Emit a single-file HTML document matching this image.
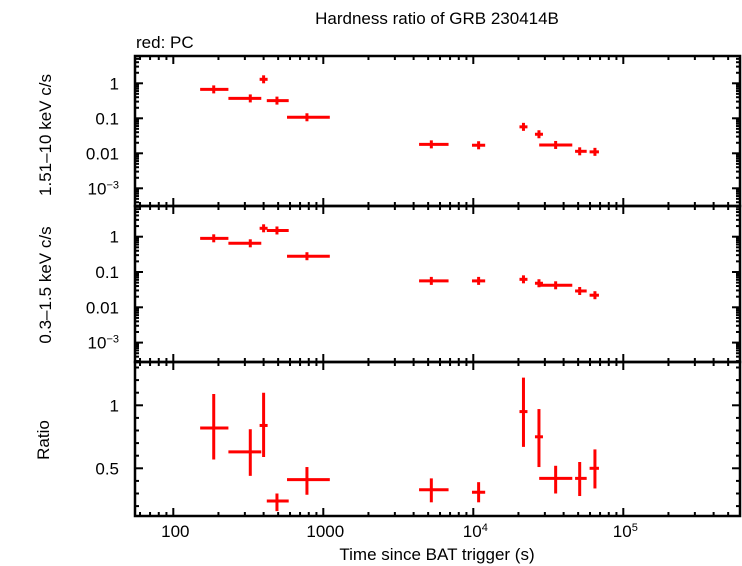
<!DOCTYPE html>
<html><head><meta charset="utf-8"><style>
body{margin:0;background:#fff}
svg{display:block;font-family:"Liberation Sans",sans-serif}
</style></head><body>
<svg id="chart" width="742" height="566" viewBox="0 0 742 566" xmlns="http://www.w3.org/2000/svg">
<text x="437" y="24" font-size="17" text-anchor="middle">Hardness ratio of GRB 230414B</text>
<text x="136" y="48" font-size="17">red: PC</text>
<text transform="translate(51,135) rotate(-90)" font-size="17" text-anchor="middle">1.51–10 keV c/s</text>
<text transform="translate(51,285) rotate(-90)" font-size="17" text-anchor="middle">0.3–1.5 keV c/s</text>
<text transform="translate(49,440) rotate(-90)" font-size="17" text-anchor="middle">Ratio</text>
<text x="437" y="560" font-size="17" text-anchor="middle">Time since BAT trigger (s)</text>
<g id="marks"></g>
<g id="axes"></g>
</svg>
<script>
const times=[186,326,400,491,778,5250,10850,21600,27400,35400,51200,64700];
const tLo=[151,233,392,420,573,4350,9800,21000,27000,27500,47700,59600];
const tHi=[233,386,408,588,1105,6840,12000,22200,27800,45700,57000,67000];
const hard=[0.67,0.37,1.3,0.32,0.107,0.018,0.017,0.057,0.035,0.0173,0.0114,0.011];
const hardLo=[0.55,0.3,1.05,0.27,0.085,0.014,0.013,0.047,0.029,0.014,0.009,0.009];
const hardHi=[0.8,0.45,1.6,0.38,0.13,0.022,0.021,0.068,0.041,0.021,0.014,0.013];
const soft=[0.9,0.65,1.73,1.5,0.28,0.056,0.056,0.062,0.048,0.042,0.029,0.022];
const softLo=[0.75,0.55,1.45,1.3,0.25,0.05,0.05,0.052,0.041,0.038,0.026,0.02];
const softHi=[1.05,0.75,2.05,1.7,0.31,0.062,0.062,0.072,0.056,0.046,0.032,0.024];
const ratio=[0.82,0.63,0.84,0.24,0.41,0.33,0.31,0.95,0.75,0.42,0.42,0.50];
const ratioLo=[0.57,0.44,0.59,0.16,0.29,0.23,0.23,0.67,0.51,0.30,0.28,0.34];
const ratioHi=[1.09,0.81,1.10,0.30,0.51,0.42,0.39,1.22,0.97,0.52,0.55,0.65];
const xTicks=[100,1000,10000,100000];
const xTickLabels=["100","1000","10^4","10^5"];
const logTicks=[1,0.1,0.01,0.001];
const logTickLabels=["1","0.1","0.01","10^-3"];
const ratioTicks=[1,0.5];
const ratioTickLabels=["1","0.5"];

const NS="http://www.w3.org/2000/svg";
const L=135,R=740;
const X=t=>173.3+(Math.log10(t)-2)*150;
const panels=[
 {top:56,bot:206,y:v=>83.3-Math.log10(v)*35,vals:hard,lo:hardLo,hi:hardHi,name:"hard"},
 {top:206,bot:362,y:v=>236.7-Math.log10(v)*35.3,vals:soft,lo:softLo,hi:softHi,name:"soft"},
 {top:362,bot:516,y:v=>405.3-(v-1)*126,vals:ratio,lo:ratioLo,hi:ratioHi,name:"ratio"}
];
const marks=document.getElementById('marks'),axes=document.getElementById('axes');
function line(g,x1,y1,x2,y2,c,w,name){const l=document.createElementNS(NS,'line');
l.setAttribute('x1',x1);l.setAttribute('y1',y1);l.setAttribute('x2',x2);l.setAttribute('y2',y2);
l.setAttribute('stroke',c);l.setAttribute('stroke-width',w);


g.appendChild(l);return l;}
function txt(x,y,s,anchor,name){const t=document.createElementNS(NS,'text');
t.setAttribute('x',x);t.setAttribute('y',y);t.setAttribute('font-size','17');t.setAttribute('text-anchor',anchor);
const m=s.match(/^10\^(.*)$/);
if(m){t.appendChild(document.createTextNode('10'));const sp=document.createElementNS(NS,'tspan');sp.setAttribute('dy','-6');sp.setAttribute('font-size','11');sp.textContent=m[1].replace('-','−');t.appendChild(sp);}
else t.textContent=s;


axes.appendChild(t);}
panels.forEach((p,pi)=>{
 const g=document.createElementNS(NS,'g');
 
 
 marks.appendChild(g);
 for(let i=0;i<times.length;i++){
  const cx=X(times[i]),cy=Math.max(p.top,Math.min(p.bot,p.y(p.vals[i])));
  const x1=Math.min(X(tLo[i]),cx-4),x2=Math.max(X(tHi[i]),cx+4);
  const y1=Math.max(p.top,Math.min(p.y(p.hi[i]),cy-4)),y2=Math.min(p.bot,Math.max(p.y(p.lo[i]),cy+4));
  line(g,x1,cy,x2,cy,'#f00',3,p.name+'-xerr-'+i);
  line(g,cx,y1,cx,y2,'#f00',3,p.name+'-yerr-'+i);
 }
 const r=document.createElementNS(NS,'rect');
 r.setAttribute('x',L);r.setAttribute('y',p.top);r.setAttribute('width',R-L);r.setAttribute('height',p.bot-p.top);
 r.setAttribute('fill','none');r.setAttribute('stroke','#000');r.setAttribute('stroke-width','2.5');
 
 
 axes.appendChild(r);
 for(let d=1;d<=6;d++)for(let k=1;k<10;k++){const t=k*Math.pow(10,d);const x=X(t);if(x<=L||x>=R)continue;
  const len=k==1?8:4;
  line(axes,x,p.top,x,p.top+len,'#000',2,'x-tick');line(axes,x,p.bot,x,p.bot-len,'#000',2,'x-tick');}
 if(pi<2){
  for(let d=-5;d<=1;d++)for(let k=1;k<10;k++){const v=k*Math.pow(10,d);const y=p.y(v);if(y<=p.top||y>=p.bot)continue;
   const len=k==1?8:4;
   line(axes,L,y,L+len,y,'#000',2,'y-tick');line(axes,R,y,R-len,y,'#000',2,'y-tick');}
  logTicks.forEach((v,i)=>txt(119,p.y(v)+6,logTickLabels[i],'end',p.name+'-y-tick-label'));
 }else{
  for(let v=0.1;v<1.4;v+=0.1){const y=p.y(v);if(y<=p.top||y>=p.bot)continue;
   const major=Math.abs(v-0.5)<0.01||Math.abs(v-1)<0.01;const len=major?8:4;
   line(axes,L,y,L+len,y,'#000',2,'y-tick');line(axes,R,y,R-len,y,'#000',2,'y-tick');}
  ratioTicks.forEach((v,i)=>txt(119,p.y(v)+6,ratioTickLabels[i],'end','ratio-y-tick-label'));
  xTicks.forEach((t,i)=>txt(X(t)+2,537,xTickLabels[i],'middle','x-tick-label'));
 }
});
</script>
</body></html>
